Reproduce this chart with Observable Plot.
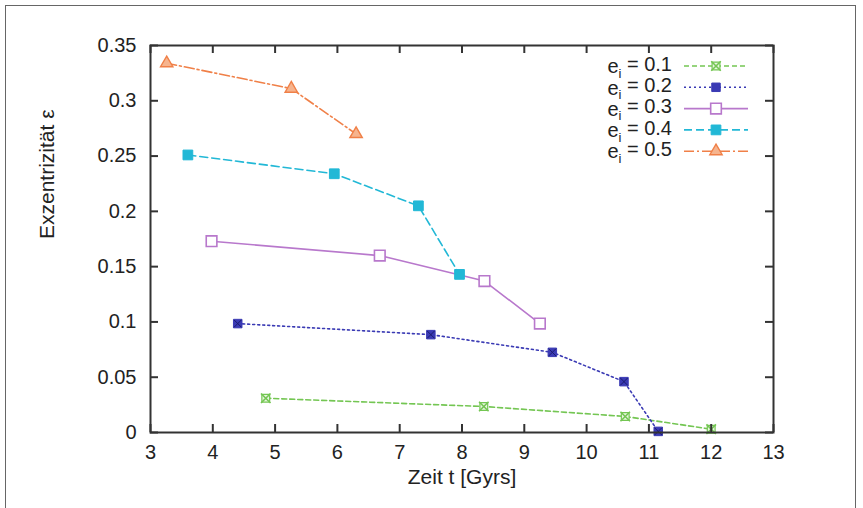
<!DOCTYPE html>
<html>
<head>
<meta charset="utf-8">
<script src="https://cdn.jsdelivr.net/npm/d3@7"></script>
<script src="https://cdn.jsdelivr.net/npm/@observablehq/plot@0.6"></script>
<style>
  html, body { margin: 0; padding: 0; background: #fff; }
  #wrap { position: relative; width: 863px; height: 508px; overflow: hidden; }
  #border { position: absolute; left: 5px; top: 5px; width: 851px; height: 520px;
            border: 1.5px solid #666; box-sizing: border-box; }
  #chart { position: absolute; left: 0; top: 0; }
</style>
</head>
<body>
<div id="wrap"><div id="border"></div><div id="chart"></div></div>
<script>
// ---- data ----
const seriesNames = ["0.1", "0.2", "0.3", "0.4", "0.5"];
const t01 = [4.85, 8.35, 10.62, 12.0];
const e01 = [0.031, 0.0235, 0.0145, 0.003];
const t02 = [4.4, 7.5, 9.45, 10.6, 11.15];
const e02 = [0.0985, 0.0885, 0.0725, 0.046, 0.001];
const t03 = [3.98, 6.68, 8.36, 9.25];
const e03 = [0.173, 0.160, 0.137, 0.0985];
const t04 = [3.6, 5.95, 7.3, 7.96];
const e04 = [0.251, 0.234, 0.205, 0.143];
const t05 = [3.26, 5.26, 6.3];
const e05 = [0.334, 0.311, 0.270];

const xTicks = [3, 4, 5, 6, 7, 8, 9, 10, 11, 12, 13];
const yTicks = [0, 0.05, 0.1, 0.15, 0.2, 0.25, 0.3, 0.35];
const yTickLabels = ["0", "0.05", "0.1", "0.15", "0.2", "0.25", "0.3", "0.35"];

const xTitle = "Zeit t [Gyrs]";
const yTitle = "Exzentrizität ε";

// ---- styles ----
const colors = ["#74c653", "#3a3ab4", "#b878cc", "#22b8d6", "#f08048"];
const dashes = ["5,3", "2,3", null, "8,4", "10,3,2,3"];

const W = 863, H = 508;
const mL = 150, mR = 90, mT = 45, mB = 76;
const innerW = W - mL - mR, innerH = H - mT - mB;
const font = "'Liberation Sans', Arial, sans-serif";

const tArr = [t01, t02, t03, t04, t05];
const eArr = [e01, e02, e03, e04, e05];
const data = seriesNames.map((s, i) => tArr[i].map((t, j) => ({t, e: eArr[i][j], s})));

function markerMarks(i, rows) {
  const c = colors[i];
  if (i === 0) return [
    Plot.dot(rows, {x: "t", y: "e", symbol: "square", r: 4.4, stroke: c, strokeWidth: 1.2, fill: "#e8f5e0"}),
    Plot.dot(rows, {x: "t", y: "e", symbol: "times", r: 4.4, stroke: c, strokeWidth: 1.6})
  ];
  if (i === 1) return [
    Plot.dot(rows, {x: "t", y: "e", symbol: "square", r: 4.8, fill: c, stroke: c, strokeWidth: 1}),
    Plot.dot(rows, {x: "t", y: "e", symbol: "times", r: 3.4, stroke: "#1c1c70", strokeWidth: 1})
  ];
  if (i === 2) return [
    Plot.dot(rows, {x: "t", y: "e", symbol: "square", r: 6, stroke: c, strokeWidth: 1.6, fill: "white"})
  ];
  if (i === 3) return [
    Plot.dot(rows, {x: "t", y: "e", symbol: "square", r: 5.5, fill: c, stroke: c, strokeWidth: 1})
  ];
  return [
    Plot.dot(rows, {x: "t", y: "e", symbol: "triangle", r: 4.6, fill: "#f6b48e", stroke: c, strokeWidth: 1.4})
  ];
}

const seriesMarks = data.flatMap((rows, i) => [
  Plot.line(rows, {x: "t", y: "e", stroke: colors[i], strokeWidth: 1.6, strokeDasharray: dashes[i]}),
  ...markerMarks(i, rows)
]);

// legend drawn as a custom mark in the frame's pixel space
function legendMark(index, scales, values, dims) {
  const g = d3.create("svg:g").attr("font-family", font).attr("font-size", 20);
  const rowY0 = 66, rowStep = 21.3;
  const textRight = 672, lineX1 = 684, lineX2 = 748, mx = 716;
  seriesNames.forEach((s, i) => {
    const y = rowY0 + i * rowStep;
    const txt = g.append("text").attr("x", textRight).attr("y", y).attr("dy", "0.36em")
      .attr("text-anchor", "end").attr("fill", "#222");
    txt.append("tspan").text("e");
    txt.append("tspan").attr("font-size", 13).attr("dy", "0.35em").text("i");
    txt.append("tspan").attr("dy", "-0.35em").text(` = ${s}`);
    g.append("line").attr("x1", lineX1).attr("x2", lineX2).attr("y1", y).attr("y2", y)
      .attr("stroke", colors[i]).attr("stroke-width", 1.6)
      .attr("stroke-dasharray", dashes[i]);
    const sym = [d3.symbolSquare, d3.symbolSquare, d3.symbolSquare, d3.symbolSquare, d3.symbolTriangle][i];
    const size = [61, 72, 113, 95, 66][i];
    const p = g.append("path").attr("transform", `translate(${mx},${y})`).attr("d", d3.symbol(sym, size)());
    if (i === 0) {
      p.attr("fill", "#e8f5e0").attr("stroke", colors[i]).attr("stroke-width", 1.2);
      g.append("path").attr("transform", `translate(${mx},${y})`).attr("d", d3.symbol(d3.symbolTimes, 61)())
        .attr("fill", "none").attr("stroke", colors[i]).attr("stroke-width", 1.6);
    } else if (i === 1) {
      p.attr("fill", colors[i]).attr("stroke", colors[i]);
    } else if (i === 2) {
      p.attr("fill", "white").attr("stroke", colors[i]).attr("stroke-width", 1.6);
    } else if (i === 3) {
      p.attr("fill", colors[i]).attr("stroke", colors[i]);
    } else {
      p.attr("fill", "#f6b48e").attr("stroke", colors[i]).attr("stroke-width", 1.4);
    }
  });
  return g.node();
}

const chart = Plot.plot({
  width: W, height: H,
  marginLeft: mL, marginRight: mR, marginTop: mT, marginBottom: mB,
  style: {fontFamily: font, fontSize: "20px", color: "#222", background: "transparent"},
  x: {domain: [3, 13]},
  y: {domain: [0, 0.35]},
  marks: [
    ...seriesMarks,
    // inward ticks on all four sides
    Plot.tickX(xTicks, {x: d => d, stroke: "#333", strokeWidth: 2, insetTop: innerH - 8}),
    Plot.tickX(xTicks, {x: d => d, stroke: "#333", strokeWidth: 2, insetBottom: innerH - 8}),
    Plot.tickY(yTicks, {y: d => d, stroke: "#333", strokeWidth: 2, insetRight: innerW - 8}),
    Plot.tickY(yTicks, {y: d => d, stroke: "#333", strokeWidth: 2, insetLeft: innerW - 8}),
    Plot.frame({stroke: "#333", strokeWidth: 2}),
    Plot.axisX(xTicks, {tickSize: 0, tickPadding: 12, fontSize: 20, label: null}),
    Plot.axisY(yTicks, {tickSize: 0, tickPadding: 14, fontSize: 20,
      tickFormat: d => yTickLabels[yTicks.indexOf(d)], label: null}),
    Plot.text([xTitle], {text: d => d, frameAnchor: "bottom", dy: 51, fontSize: 21, fill: "#222"}),
    Plot.text([yTitle], {text: d => d, frameAnchor: "left", dx: -103, rotate: -90, fontSize: 21, fill: "#222"}),
    legendMark
  ]
});
document.getElementById("chart").append(chart);
</script>
</body>
</html>
